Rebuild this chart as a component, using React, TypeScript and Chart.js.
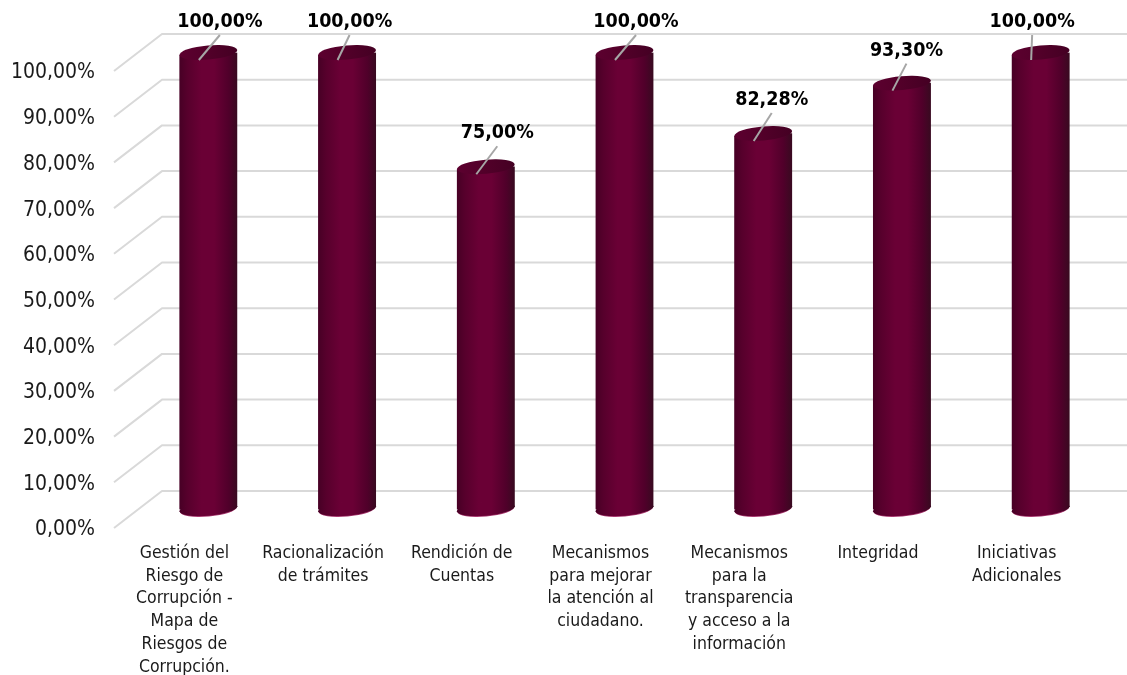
import React, { useEffect, useRef } from "react";
import { Chart, registerables } from "chart.js";

Chart.register(...registerables);

const categories: string[][] = [
  ["Gestión del", "Riesgo de", "Corrupción -", "Mapa de", "Riesgos de", "Corrupción."],
  ["Racionalización", "de trámites"],
  ["Rendición de", "Cuentas"],
  ["Mecanismos", "para mejorar", "la atención al", "ciudadano."],
  ["Mecanismos", "para la", "transparencia", "y acceso a la", "información"],
  ["Integridad"],
  ["Iniciativas", "Adicionales"],
];
const values = [100, 100, 75, 100, 82.28, 93.3, 100];
const valueLabels = ["100,00%", "100,00%", "75,00%", "100,00%", "82,28%", "93,30%", "100,00%"];
const leaderDx = [21, 12, 21, 21, 18, 14, 1];
const leaderDy = [-25, -25, -28, -25, -28, -27, -25];

const AXIS_FONT = "'DejaVu Sans Condensed', 'DejaVu Sans'";
const DEPTH_X = 48;
const DEPTH_Y = 37;
const BAR_SHIFT = -18.5;
const TILT = 2.5;
const GRID = "#d9d9d9";

function barGradient(ctx: CanvasRenderingContext2D, cx: number, halfW: number) {
  const g = ctx.createLinearGradient(cx - halfW, 0, cx + halfW, 0);
  g.addColorStop(0, "#470025");
  g.addColorStop(0.14, "#57002c");
  g.addColorStop(0.38, "#6a0035");
  g.addColorStop(0.6, "#6a0035");
  g.addColorStop(0.85, "#50002a");
  g.addColorStop(1, "#380a20");
  return g;
}

const cylinderPlugin = {
  id: "cylinder",
  beforeDatasetsDraw(chart: any) {
    const { ctx, chartArea, scales } = chart;
    ctx.save();
    ctx.strokeStyle = GRID;
    ctx.lineWidth = 2;
    ctx.lineJoin = "round";
    scales.y.ticks.forEach((t: any) => {
      const y = scales.y.getPixelForValue(t.value);
      ctx.beginPath();
      ctx.moveTo(chartArea.left - 25, y);
      ctx.lineTo(chartArea.left - 25 + DEPTH_X, y - DEPTH_Y);
      ctx.lineTo(1127, y - DEPTH_Y);
      ctx.stroke();
    });
    ctx.restore();
    ctx.save();
    ctx.translate(0, BAR_SHIFT);
    // trim the flat bar ends to the tilt of the cylinder caps
    ctx.beginPath();
    chart.getDatasetMeta(0).data.forEach((b: any) => {
      const hw = b.width / 2;
      ctx.moveTo(b.x - hw, b.y + TILT);
      ctx.lineTo(b.x + hw, b.y - TILT);
      ctx.lineTo(b.x + hw, b.base - TILT);
      ctx.lineTo(b.x - hw, b.base + TILT);
      ctx.closePath();
    });
    ctx.clip();
  },
  afterDatasetsDraw(chart: any) {
    const { ctx } = chart;
    ctx.restore();
    ctx.save();
    ctx.translate(0, BAR_SHIFT);
    const bars = chart.getDatasetMeta(0).data;
    const rot = (-5 * Math.PI) / 180;
    bars.forEach((b: any) => {
      const hw = b.width / 2;
      // pink fringe, then bottom cap slightly above it
      ctx.beginPath();
      ctx.ellipse(b.x, b.base, hw - 0.5, 7, rot, 0, Math.PI * 2);
      ctx.fillStyle = "#a8386f";
      ctx.fill();
      ctx.beginPath();
      ctx.ellipse(b.x, b.base - 0.8, hw, 7, rot, 0, Math.PI * 2);
      ctx.fillStyle = barGradient(ctx, b.x, hw);
      ctx.fill();
      // top cap
      const tg = ctx.createLinearGradient(b.x - hw, 0, b.x + hw, 0);
      tg.addColorStop(0, "#5c002f");
      tg.addColorStop(0.5, "#520029");
      tg.addColorStop(1, "#440023");
      ctx.beginPath();
      ctx.ellipse(b.x, b.y, hw, 7, rot, 0, Math.PI * 2);
      ctx.fillStyle = tg;
      ctx.fill();
    });
    ctx.restore();
    // leader lines and value labels
    ctx.save();
    bars.forEach((b: any, i: number) => {
      const sx = b.x - 9.5;
      const sy = b.y + BAR_SHIFT + 7.5;
      const ex = sx + leaderDx[i];
      const ey = sy + leaderDy[i];
      ctx.beginPath();
      ctx.moveTo(sx, sy);
      ctx.lineTo(ex, ey);
      ctx.strokeStyle = "#a6a6a6";
      ctx.lineWidth = 2;
      ctx.stroke();
      ctx.fillStyle = "#000";
      ctx.font = `bold 19.5px ${AXIS_FONT}`;
      ctx.textAlign = "center";
      ctx.textBaseline = "middle";
      ctx.fillText(valueLabels[i], ex, ey - 13);
    });
    ctx.restore();
  },
};

export default function App() {
  const ref = useRef<HTMLCanvasElement>(null);
  useEffect(() => {
    const c = new Chart(ref.current!, {
      type: "bar",
      data: {
        labels: categories as any,
        datasets: [
          {
            data: values,
            barThickness: 58,
            borderWidth: 0,
            backgroundColor: (ctx: any) => {
              const ch = ctx.chart;
              if (!ch.chartArea || !ch.scales.x) return "#6b0036";
              return barGradient(ch.ctx, ch.scales.x.getPixelForValue(ctx.dataIndex), 29);
            },
          },
        ],
      },
      options: {
        responsive: false,
        animation: false,
        events: [],
        layout: { padding: { top: 71, left: 0, right: 17, bottom: 0 } },
        plugins: { legend: { display: false }, tooltip: { enabled: false } },
        scales: {
          y: {
            min: 0,
            max: 100,
            afterFit: (s: any) => { s.width = 139; },
            grid: { display: false },
            border: { display: false },
            ticks: {
              stepSize: 10,
              padding: 36,
              labelOffset: 2,
              color: "#1a1a1a",
              font: { family: AXIS_FONT, size: 21 },
              callback: (v: any) => `${Number(v).toFixed(2).replace(".", ",")}%`,
            },
          },
          x: {
            afterFit: (s: any) => { s.height = 147; },
            grid: { display: false },
            border: { display: false },
            ticks: {
              autoSkip: false,
              maxRotation: 0,
              minRotation: 0,
              padding: 6,
              labelOffset: -24,
              color: "#1a1a1a",
              font: { family: AXIS_FONT, size: 17.5, lineHeight: 1.3 },
            },
          },
        },
      },
      plugins: [cylinderPlugin],
    } as any);
    return () => c.destroy();
  }, []);
  return (
    <div style={{ position: "absolute", left: 0, top: 0, width: 1127, height: 675, background: "#fff" }}>
      <canvas ref={ref} width={1127} height={675} style={{ display: "block" }} />
    </div>
  );
}
